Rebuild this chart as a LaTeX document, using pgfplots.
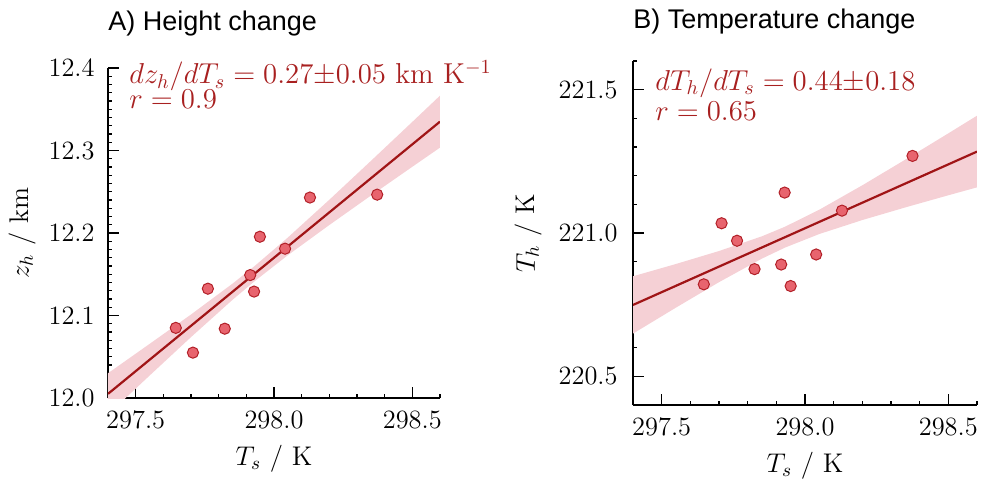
\RequirePackage{fix-cm}
\documentclass[border=0pt]{standalone}
\usepackage{fontspec}
\usepackage{pgfplots}
\pgfplotsset{compat=1.18}
\newfontfamily\titlefont{Liberation Sans}
\newfontfamily\tickfont{Latin Modern Roman}
\definecolor{fitred}{RGB}{160,20,22}
\definecolor{markfill}{RGB}{232,100,110}
\definecolor{markedge}{RGB}{178,32,40}
\definecolor{bandpink}{RGB}{245,208,213}
\definecolor{annred}{RGB}{168,32,32}

\pgfplotsset{
  panel/.style={
    scale only axis, clip mode=individual,
    xmin=297.4, xmax=298.6,
    axis x line*=bottom, axis y line*=left,
    tick align=inside,
    axis line style={line width=0.8pt},
    every tick/.style={black, line width=0.7pt},
    major tick length=5.5pt, minor tick length=2.2pt,
    xtick={297.5,298,298.5}, xticklabels={},
    minor xtick={297.4,297.6,297.7,297.8,297.9,298.1,298.2,298.3,298.4,298.6},
    yticklabels={},
    label style={font=\fontsize{13.5}{16}\selectfont},
    xlabel style={at={(axis description cs:0.5,0)}, anchor=base, yshift=-33.5pt},
    xlabel={$T_s\ /\ \mathrm{K}$},
  },
  fitline/.style={color=fitred, line width=1.1pt},
  band/.style={fill=bandpink, draw=none},
  pts/.style={only marks, mark=*, mark size=2.8pt,
    mark options={fill=markfill, draw=markedge, line width=0.5pt}},
}
\tikzset{
  ann/.style={anchor=base west, inner sep=0pt, text=annred, font=\fontsize{14.4}{17}\selectfont},
  xtl/.style={anchor=base, inner sep=0pt, yshift=-15pt, font=\tickfont\fontsize{13.2}{15}\selectfont},
  ytl/.style={anchor=east, inner sep=0pt, font=\tickfont\fontsize{13.2}{15}\selectfont},
}

\begin{document}
\begin{tikzpicture}
\path[use as bounding box] (0,0) rectangle (491pt,242pt);

% A) height
\begin{axis}[panel,
  at={(54pt,43pt)}, anchor=south west,
  width=166pt, height=165pt,
  ymin=12.0, ymax=12.4,
  ytick={12.0,12.1,12.2,12.3,12.4},
  minor y tick num=9,
  ylabel={$z_h\ /\ \mathrm{km}$},
  ylabel style={at={(axis description cs:-0.259,0.5)}, anchor=center},
]
\addplot[band] coordinates {
 (297.4,12.030) (297.55,12.0655) (297.7,12.1012) (297.85,12.1386) (297.93,12.160)
 (298.05,12.1945) (298.2,12.2403) (298.35,12.2873) (298.5,12.3347) (298.6,12.3665)
 (298.6,12.3035) (298.5,12.2803) (298.35,12.2453) (298.2,12.2097) (298.05,12.1731)
 (297.93,12.1416) (297.85,12.119) (297.7,12.0738) (297.55,12.0271) (297.4,11.980)
} -- cycle;
\addplot[fitline] coordinates {(297.4,12.005) (298.6,12.335)};
\addplot[pts] coordinates {
 (297.645,12.085) (297.707,12.055) (297.761,12.1325) (297.822,12.084)
 (297.914,12.149) (297.928,12.129) (297.949,12.1955) (298.04,12.181)
 (298.13,12.243) (298.373,12.2465)
};
\pgfplotsinvokeforeach{297.5,298.0,298.5}{\node[xtl] at (axis cs:#1,12.0) {#1};}
\pgfplotsinvokeforeach{12.0,12.1,12.2,12.3,12.4}{\node[ytl, xshift=-6.5pt] at (axis cs:297.4,#1) {#1};}
\node[ann] at (axis cs:297.476,12.381) {$dz_h/dT_s = 0.27{\pm}0.05\ \mathrm{km\ K^{-1}}$};
\node[ann] at (axis cs:297.476,12.351) {$r = 0.9$};
\end{axis}

% B) temperature
\begin{axis}[panel,
  at={(316.5pt,39.5pt)}, anchor=south west,
  width=172pt, height=172pt,
  ymin=220.4, ymax=221.6,
  ytick={220.5,221.0,221.5},
  minor ytick={220.4,220.6,220.7,220.8,220.9,221.1,221.2,221.3,221.4,221.6},
  ylabel={$T_h\ /\ \mathrm{K}$},
  ylabel style={at={(axis description cs:-0.305,0.5)}, anchor=center},
]
\addplot[band] coordinates {
 (297.4,220.849) (297.55,220.892) (297.7,220.9371) (297.85,220.9886) (297.93,221.0218)
 (298.05,221.0813) (298.2,221.1664) (298.35,221.2561) (298.5,221.3476) (298.6,221.4092)
 (298.6,221.1592) (298.5,221.1316) (298.35,221.0893) (298.2,221.0452) (298.05,220.9965)
 (297.93,220.949) (297.85,220.9108) (297.7,220.8285) (297.55,220.7398) (297.4,220.649)
} -- cycle;
\addplot[fitline] coordinates {(297.4,220.749) (298.6,221.284)};
\addplot[pts] coordinates {
 (297.647,220.821) (297.709,221.034) (297.763,220.973) (297.824,220.874)
 (297.917,220.890) (297.929,221.141) (297.95,220.815) (298.039,220.925)
 (298.129,221.078) (298.375,221.269)
};
\pgfplotsinvokeforeach{297.5,298.0,298.5}{\node[xtl] at (axis cs:#1,220.4) {#1};}
\pgfplotsinvokeforeach{220.5,221.0,221.5}{\node[ytl, xshift=-7.5pt] at (axis cs:297.4,#1) {#1};}
\node[ann] at (axis cs:297.477,221.498) {$dT_h/dT_s = 0.44{\pm}0.18$};
\node[ann] at (axis cs:297.477,221.393) {$r = 0.65$};
\end{axis}

\node[anchor=base west, inner sep=0pt, font=\titlefont\fontsize{13.5}{16}\selectfont] at (54pt,227pt) {A) Height change};
\node[anchor=base west, inner sep=0pt, font=\titlefont\fontsize{13.5}{16}\selectfont] at (316.5pt,228pt) {B) Temperature change};
\end{tikzpicture}
\end{document}
